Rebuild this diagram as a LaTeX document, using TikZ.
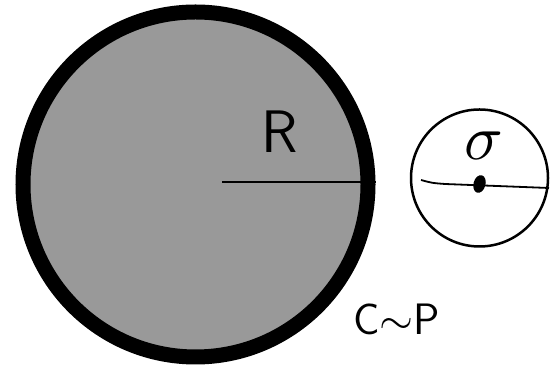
\documentclass[tikz,border=0pt]{standalone}
\usepackage{unicode-math}
\usetikzlibrary{shapes.geometric}
\definecolor{diskgray}{RGB}{153,153,153}
\tikzset{
  bigdisk/.style={circle, draw=black, fill=diskgray, line width=15pt, minimum size=345pt, inner sep=0pt},
  probe/.style={circle, draw=black, line width=2.5pt, minimum size=137pt, inner sep=0pt},
  charge/.style={ellipse, fill=black, minimum width=12pt, minimum height=18pt, inner sep=0pt, rotate=-15},
  handlabel/.style={inner sep=0pt, font=\fontsize{60}{60}\selectfont\sffamily},
  smalllabel/.style={inner sep=0pt, font=\fontsize{44}{44}\selectfont\sffamily},
}
\begin{document}
\begin{tikzpicture}[x=1pt, y=1pt]
  \useasboundingbox (0,0) rectangle (551,371);
  % large disk with its radius
  \node[bigdisk] (star) at (195.5,186.5) {};
  \coordinate (rstart) at (222,189);
  \draw[line width=2pt] (rstart) -- (rstart -| star.east);
  \node[handlabel, anchor=base] (rlabel) at (280,218) {R};
  \node[smalllabel, anchor=base west] (cplabel) at (353,36) {C$\sim$P};
  % small circle with the charge
  \node[probe] (ball) at (479.5,193) {};
  \coordinate (wstart) at (421,191);
  \coordinate (wend) at (549,183);
  \draw[line width=1.8pt] (wstart) .. controls (432,188) .. (445,187) -- (wend);
  \node[charge] (dot) at (479.5,187) {};
  \node[inner sep=0pt, anchor=base west, font=\fontsize{64}{64}\selectfont] (slabel) at (464,211) {$\sigma$};
\end{tikzpicture}
\end{document}
